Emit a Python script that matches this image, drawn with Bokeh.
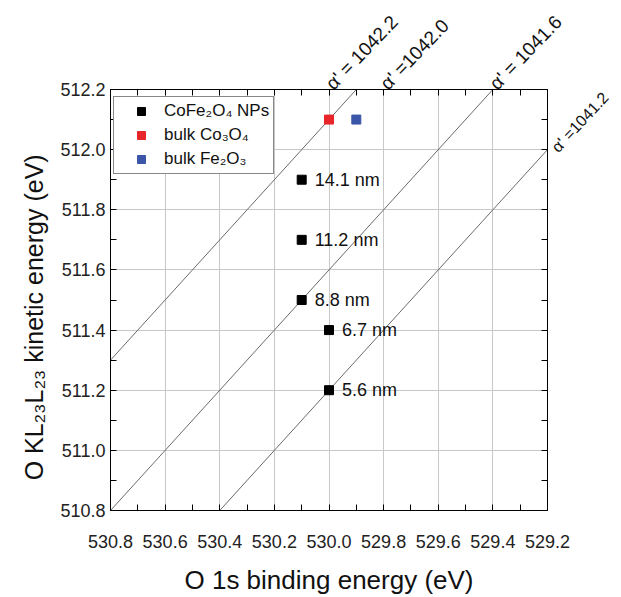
import math
from bokeh.plotting import figure
from bokeh.models import Range1d, FixedTicker, LinearAxis, NumeralTickFormatter, ColumnDataSource
from bokeh.embed import file_html
from bokeh.resources import INLINE
from bokeh.core.properties import value

# ---- data ----
np_be = [530.1, 530.1, 530.1, 530.0, 530.0]
np_ke = [511.9, 511.7, 511.5, 511.4, 511.2]
np_size = ["14.1 nm", "11.2 nm", "8.8 nm", "6.7 nm", "5.6 nm"]
co3o4_be = [530.0]
co3o4_ke = [512.1]
fe2o3_be = [529.9]
fe2o3_ke = [512.1]
alpha_lines = [1042.1, 1041.6, 1041.2]
alpha_labels = [1042.2, 1042.0, 1041.6, 1041.2]
alpha_label_text = ["α' = 1042.2", "α' =1042.0", "α' = 1041.6", "α' =1041.2"]
x_ticks = [530.8, 530.6, 530.4, 530.2, 530.0, 529.8, 529.6, 529.4, 529.2]
x_minor = [530.7, 530.5, 530.3, 530.1, 529.9, 529.7, 529.5, 529.3]
y_ticks = [510.8, 511.0, 511.2, 511.4, 511.6, 511.8, 512.0, 512.2]
y_minor = [510.9, 511.1, 511.3, 511.5, 511.7, 511.9, 512.1]
x_lo, x_hi = 530.8, 529.2
y_lo, y_hi = 510.8, 512.2

FONT = "Liberation Sans"

p = figure(width=621, height=597, x_range=Range1d(x_lo, x_hi), y_range=Range1d(y_lo, y_hi),
           output_backend="svg", toolbar_location=None,
           min_border_left=110, min_border_right=73, min_border_top=89, min_border_bottom=85)
p.outline_line_color = "black"
p.outline_line_width = 1
p.background_fill_color = "white"
p.border_fill_color = "white"

xt = FixedTicker(ticks=x_ticks, minor_ticks=x_minor)
yt = FixedTicker(ticks=y_ticks, minor_ticks=y_minor)

def style_axis(ax, ticker):
    ax.ticker = ticker
    ax.formatter = NumeralTickFormatter(format="0.0")
    ax.axis_line_color = "black"
    ax.major_tick_line_color = "black"
    ax.minor_tick_line_color = "black"
    ax.major_tick_in = 6
    ax.major_tick_out = 0
    ax.minor_tick_in = 6
    ax.minor_tick_out = 0
    ax.major_label_text_font = FONT
    ax.major_label_text_color = "#222222"
    ax.major_label_text_font_size = "18px"
    ax.axis_label_text_font = FONT
    ax.axis_label_text_font_style = "normal"
    ax.axis_label_text_color = "#111111"

xa = p.xaxis[0]
style_axis(xa, xt)
xa.major_label_standoff = 24
xa.axis_label = "O 1s binding energy (eV)"
xa.axis_label_text_font_size = "26px"
xa.axis_label_standoff = 14

ya = p.yaxis[0]
style_axis(ya, yt)
ya.major_label_standoff = 5
# trailing no-break spaces shift the centred title slightly downward, as in the original
ya.axis_label = "O KL₂₃L₂₃ kinetic energy (eV)" + "\u00a0" * 5
ya.axis_label_text_font_size = "25px"
ya.axis_label_standoff = 9

# alpha' annotations are placed as tick labels of the mirror axes (at the line ends)
top_over = {}
right_over = {}
for a, t in zip(alpha_labels, alpha_label_text):
    yy = round(min(y_hi, a - x_hi), 1)
    xx = round(a - yy, 1)
    if yy == y_hi:
        top_over[xx] = t
    else:
        right_over[yy] = t

top = LinearAxis()
style_axis(top, xt)
top.major_label_overrides = {tk: top_over.get(tk, "") for tk in x_ticks}
top.major_label_orientation = math.radians(46)
top.major_label_standoff = 3
top.major_label_text_font_size = "19px"
top.major_label_text_color = "#111111"
p.add_layout(top, "above")

right = LinearAxis()
style_axis(right, yt)
right.major_label_overrides = {tk: right_over.get(tk, "") for tk in y_ticks}
right.major_label_orientation = math.radians(47)
right.major_label_standoff = 7
right.major_label_text_font_size = "16px"
right.major_label_text_color = "#111111"
p.add_layout(right, "right")

p.xgrid.ticker = xt
p.ygrid.ticker = yt
p.grid.grid_line_color = "#c8c8c8"
p.grid.grid_line_width = 1

# Auger parameter lines: KE = alpha - BE
for a in alpha_lines:
    xs = [x_lo, x_hi]
    ys = [a - x for x in xs]
    p.line(xs, ys, line_color="#6a6a6a", line_width=1)

src = ColumnDataSource(dict(x=np_be, y=np_ke, t=np_size))
p.scatter("x", "y", source=src, marker="square", size=9, color="black", legend_label="CoFe₂O₄ NPs")
p.scatter(co3o4_be, co3o4_ke, marker="square", size=9, color="#e8262a", legend_label="bulk Co₃O₄")
p.scatter(fe2o3_be, fe2o3_ke, marker="square", size=9, color="#3b55a8", legend_label="bulk Fe₂O₃")
p.text("x", "y", text="t", source=src, x_offset=13, text_baseline="middle", text_align="left",
       text_font=value(FONT), text_font_size="18px", text_color="#111111")

lg = p.legend[0]
lg.location = (3, 336)
lg.padding = 4
lg.spacing = 4
lg.glyph_width = 46
lg.glyph_height = 20
lg.label_height = 20
lg.label_standoff = 0
lg.margin = 0
lg.label_text_font = FONT
lg.label_text_font_size = "17px"
lg.label_text_color = "#111111"
lg.border_line_color = "#888888"
lg.border_line_alpha = 1
lg.border_line_width = 1
lg.background_fill_color = "white"
lg.background_fill_alpha = 1

open("out.html", "w").write(file_html(p, INLINE))
